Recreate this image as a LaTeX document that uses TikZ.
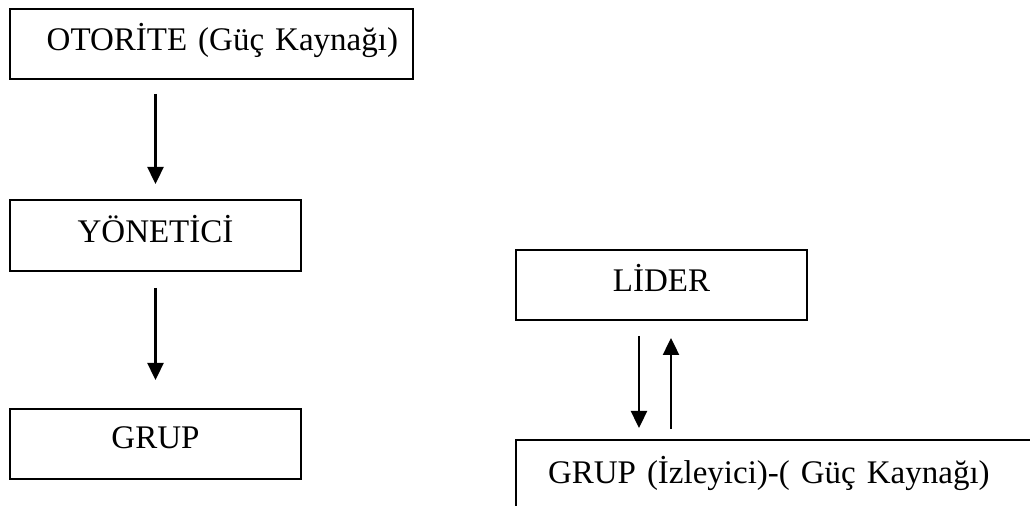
\documentclass[tikz,border=0pt]{standalone}
\usepackage{fontspec}
\setmainfont{Liberation Serif}
\usetikzlibrary{arrows.meta}
\tikzset{
  box/.style={draw,line width=1pt,minimum width=145.5pt,minimum height=35pt,
    inner sep=0pt,text height=15pt,text depth=8pt,font=\fontsize{16.5}{20}\selectfont},
  arr/.style={line width=1.2pt,-{Triangle[length=8.5pt,width=8pt]}}
}
\begin{document}
\begin{tikzpicture}[x=0.5pt,y=-0.5pt]
\useasboundingbox (0,0) rectangle (1030,506);
\clip (0,0) rectangle (1030,506);
% left side
\node[box,minimum width=201.5pt,text width=186.5pt,align=right] (otorite) at (211.5,44) {OTORİTE (Güç Kaynağı)};
\node[box,minimum height=35.5pt] (yonetici) at (155.5,235.5) {YÖNETİCİ};
\node[box,text height=13pt] (grup) at (155.5,444) {GRUP};
%
\draw[arr,shorten <=7pt,shorten >=7.5pt] (otorite.south -| yonetici.north) -- (yonetici.north);
\draw[arr,shorten <=8pt,shorten >=14pt] (yonetici.south) -- (grup.north);
% right side
\node[box] (lider) at (661.5,285) {LİDER};
\node[box,anchor=north west,inner xsep=16pt,text width=260pt,align=left,
  text height=22pt,text depth=28pt,minimum height=0pt] (izleyici) at (515,439) {GRUP (İzleyici)-( Güç Kaynağı)};
%
\draw[arr,shorten <=7.5pt,shorten >=5.5pt] ([xshift=-11.25pt]lider.south) -- ([xshift=-11.25pt]lider.south |- izleyici.north);
\draw[arr,shorten <=5pt,shorten >=8.5pt] ([xshift=4.75pt]lider.south |- izleyici.north) -- ([xshift=4.75pt]lider.south);
\end{tikzpicture}
\end{document}
